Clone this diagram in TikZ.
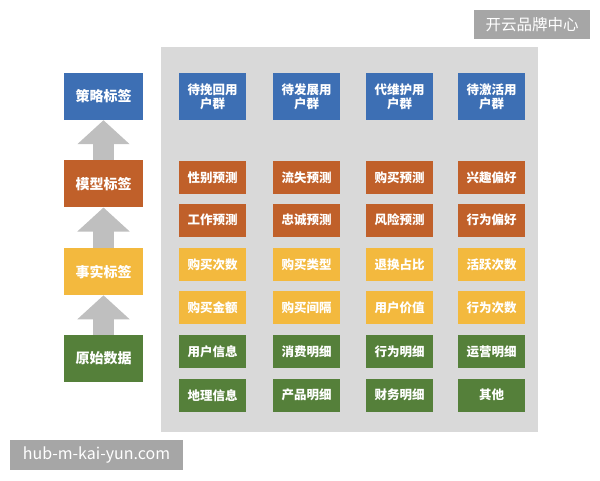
\documentclass[tikz,border=0pt]{standalone}
\usepackage{fontspec}
\setmainfont{Noto Sans CJK SC}
\usetikzlibrary{arrows.meta}
\definecolor{tagblue}{HTML}{3D6FB4}
\definecolor{tagorange}{HTML}{C0602A}
\definecolor{tagyellow}{HTML}{F3B93E}
\definecolor{taggreen}{HTML}{55803A}
\definecolor{panelgray}{HTML}{D9D9D9}
\definecolor{arrowgray}{HTML}{BFBFBF}
\definecolor{markgray}{HTML}{A6A6A6}
\begin{document}
\begin{tikzpicture}[x=1pt,y=-1pt]
        \tikzstyle{layer}=[rectangle,minimum width=79pt,minimum height=47pt,inner sep=0pt,text=white,font=\fontsize{14}{16}\selectfont\bfseries]
        \tikzstyle{cell}=[rectangle,minimum width=67pt,minimum height=33pt,inner sep=0pt,text=white,align=center,font=\fontsize{12.5}{14}\selectfont\bfseries]
        \tikzstyle{group}=[cell,minimum height=47pt,fill=tagblue]
        \tikzstyle{uparrow}=[draw=arrowgray,line width=21pt,-{Triangle[width=51pt,length=24pt]}]
        \tikzstyle{markbox}=[rectangle,fill=markgray,text=white,inner sep=0pt]
        \useasboundingbox (0,0) rectangle (600,480);
        \fill[panelgray] (161,47) rectangle (538,432);
        % left column
        \node[layer,fill=tagblue] (strategy) at (103.5,96.5) {策略标签};
        \node[layer,fill=tagorange] (model) at (103.5,183.8) {模型标签};
        \node[layer,fill=tagyellow] (fact) at (103.5,271.6) {事实标签};
        \node[layer,fill=taggreen] (raw) at (103.5,358.6) {原始数据};
        \draw[uparrow] (raw.north) -- (fact.south);
        \draw[uparrow] (fact.north) -- (model.south);
        \draw[uparrow] (model.north) -- (strategy.south);
        % user groups
        \node[group] (winback) at (212.7,96.5) {待挽回用\\户群};
        \node[group] (develop) at (306.5,96.5) {待发展用\\户群};
        \node[group] (maintain) at (399.5,96.5) {代维护用\\户群};
        \node[group] (activate) at (491.5,96.5) {待激活用\\户群};
        % model tags
        \node[cell,fill=tagorange] (gender) at (212.7,177.4) {性别预测};
        \node[cell,fill=tagorange] (churn) at (306.5,177.4) {流失预测};
        \node[cell,fill=tagorange] (buy) at (399.5,177.4) {购买预测};
        \node[cell,fill=tagorange] (interest) at (491.5,177.4) {兴趣偏好};
        \node[cell,fill=tagorange] (job) at (212.7,220) {工作预测};
        \node[cell,fill=tagorange] (loyalty) at (306.5,220) {忠诚预测};
        \node[cell,fill=tagorange] (risk) at (399.5,220) {风险预测};
        \node[cell,fill=tagorange] (habit) at (491.5,220) {行为偏好};
        % fact tags
        \node[cell,fill=tagyellow] (buycount) at (212.7,264.5) {购买次数};
        \node[cell,fill=tagyellow] (buytype) at (306.5,264.5) {购买类型};
        \node[cell,fill=tagyellow] (returns) at (399.5,264.5) {退换占比};
        \node[cell,fill=tagyellow] (active) at (491.5,264.5) {活跃次数};
        \node[cell,fill=tagyellow] (amount) at (212.7,307.5) {购买金额};
        \node[cell,fill=tagyellow] (interval) at (306.5,307.5) {购买间隔};
        \node[cell,fill=tagyellow] (value) at (399.5,307.5) {用户价值};
        \node[cell,fill=tagyellow] (actcount) at (491.5,307.5) {行为次数};
        % raw data
        \node[cell,fill=taggreen] (userinfo) at (212.7,351.7) {用户信息};
        \node[cell,fill=taggreen] (spend) at (306.5,351.7) {消费明细};
        \node[cell,fill=taggreen] (behave) at (399.5,351.7) {行为明细};
        \node[cell,fill=taggreen] (operate) at (491.5,351.7) {运营明细};
        \node[cell,fill=taggreen] (geo) at (212.7,395.2) {地理信息};
        \node[cell,fill=taggreen] (product) at (306.5,395.2) {产品明细};
        \node[cell,fill=taggreen] (finance) at (399.5,395.2) {财务明细};
        \node[cell,fill=taggreen] (other) at (491.5,395.2) {其他};
        % watermarks
        \node[markbox,minimum width=116pt,minimum height=29pt,font=\fontsize{15.5}{17}\selectfont] (brand) at (532,24.6) {开云品牌中心};
        \node[markbox,minimum width=173pt,minimum height=30pt,font=\fontsize{16}{18}\selectfont] (site) at (96.5,455) {hub-m-kai-yun.com};
\end{tikzpicture}
\end{document}
